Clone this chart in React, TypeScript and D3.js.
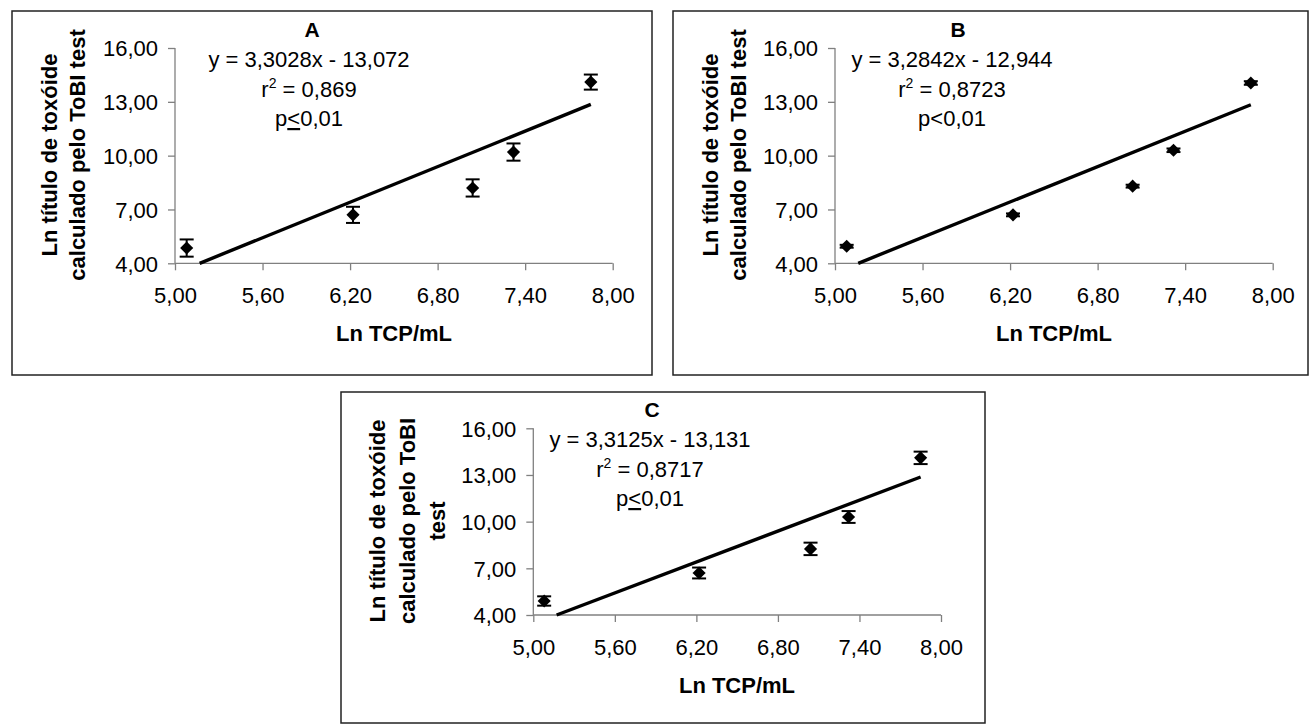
import React, { useEffect, useRef } from "react";
import * as d3 from "d3";

// Ln TCP/mL (same x for the three panels)
const lnTCP = [5.08, 6.22, 7.04, 7.32, 7.85];

// Ln titulo (ToBI test) and error per panel
const tituloA = [4.85, 6.7, 8.2, 10.2, 14.1];
const erroA = [0.48, 0.45, 0.48, 0.48, 0.42];
const tituloB = [4.95, 6.7, 8.3, 10.3, 14.05];
const erroB = [0.08, 0.08, 0.08, 0.1, 0.1];
const tituloC = [4.9, 6.7, 8.25, 10.3, 14.1];
const erroC = [0.3, 0.35, 0.4, 0.38, 0.4];

const xTicks = [5.0, 5.6, 6.2, 6.8, 7.4, 8.0];
const yTicks = [4, 7, 10, 13, 16];

const panelNames = ["A", "B", "C"];
const slopes = [3.3028, 3.2842, 3.3125];
const intercepts = [-13.072, -12.944, -13.131];
const equations = ["y = 3,3028x - 13,072", "y = 3,2842x - 12,944", "y = 3,3125x - 13,131"];
const r2Values = ["0,869", "0,8723", "0,8717"];
const pUnderlined = [true, false, true];
const yLabels = [
  ["Ln título de toxóide", "calculado pelo ToBI test"],
  ["Ln título de toxóide", "calculado pelo ToBI test"],
  ["Ln título de toxóide", "calculado pelo ToBI", "test"],
];
const xLabel = "Ln TCP/mL";

const FONT = "Arial, 'Liberation Sans', sans-serif";

const layouts = [
  { box: [12, 11, 652, 375], plot: [175, 612.7, 263.3, 48], title: [312, 37], note: [309, 67], yLab: [57, 155], yStep: 28, xLab: [394, 341] },
  { box: [673, 11, 1308, 375], plot: [835, 1272.7, 263.3, 48], title: [958, 37], note: [952, 67], yLab: [718, 155], yStep: 28, xLab: [1054, 341] },
  { box: [341, 392, 985, 723], plot: [533.3, 941, 615, 428.3], title: [652, 417], note: [650, 447], yLab: [385, 521], yStep: 30, xLab: [737, 693] },
];

const fmt = (v) => d3.format(".2f")(v).replace(".", ",");

function drawPanel(svg, i, ys, errs) {
  const L = layouts[i];
  const g = svg.append("g");
  const [bx0, by0, bx1, by1] = L.box;
  g.append("rect")
    .attr("x", bx0)
    .attr("y", by0)
    .attr("width", bx1 - bx0)
    .attr("height", by1 - by0)
    .attr("fill", "white")
    .attr("stroke", "#222")
    .attr("stroke-width", 1.5);

  const [px0, px1, py0, py1] = L.plot;
  const x = d3.scaleLinear().domain([5, 8]).range([px0, px1]);
  const y = d3.scaleLinear().domain([4, 16]).range([py0, py1]);

  const xAxis = g.append("g").attr("transform", `translate(0,${py0})`)
    .call(d3.axisBottom(x).tickValues(xTicks).tickSize(7).tickFormat(fmt));
  const yAxis = g.append("g").attr("transform", `translate(${px0},0)`)
    .call(d3.axisLeft(y).tickValues(yTicks).tickSize(7).tickFormat(fmt));
  [xAxis, yAxis].forEach((a) => {
    a.select(".domain").attr("stroke", "#808080").attr("stroke-width", 1.3);
    a.selectAll(".tick line").attr("stroke", "#808080").attr("stroke-width", 1.3);
    a.selectAll(".tick text").attr("fill", "black").style("font-family", FONT).style("font-size", "22px");
  });
  xAxis.selectAll(".domain").attr("d", `M${px0},0H${px1}`);
  yAxis.selectAll(".domain").attr("d", `M0,${py0}V${py1}`);
  xAxis.selectAll(".tick text").attr("y", 24).attr("dy", "0.71em");
  yAxis.selectAll(".tick text").attr("x", -17).attr("dy", "0.36em");

  // trendline
  const a = slopes[i], b = intercepts[i];
  const xs = Math.max(d3.min(lnTCP), (4 - b) / a);
  const xe = d3.max(lnTCP);
  g.append("path")
    .attr("d", d3.line()([[x(xs), y(a * xs + b)], [x(xe), y(a * xe + b)]]))
    .attr("stroke", "black")
    .attr("stroke-width", 3.4)
    .attr("fill", "none");

  // error bars
  const pts = lnTCP.map((v, k) => ({ x: v, y: ys[k], e: errs[k] }));
  const eb = g.selectAll(".eb").data(pts).enter().append("g");
  eb.append("line")
    .attr("x1", (d) => x(d.x)).attr("x2", (d) => x(d.x))
    .attr("y1", (d) => y(d.y - d.e)).attr("y2", (d) => y(d.y + d.e))
    .attr("stroke", "black").attr("stroke-width", 2);
  [-1, 1].forEach((s) => {
    eb.append("line")
      .attr("x1", (d) => x(d.x) - 7).attr("x2", (d) => x(d.x) + 7)
      .attr("y1", (d) => y(d.y + s * d.e)).attr("y2", (d) => y(d.y + s * d.e))
      .attr("stroke", "black").attr("stroke-width", 2);
  });
  g.selectAll(".pt").data(pts).enter().append("path")
    .attr("d", d3.symbol(d3.symbolDiamond2, 110)())
    .attr("transform", (d) => `translate(${x(d.x)},${y(d.y)})`)
    .attr("fill", "black");

  // title and equation text
  g.append("text")
    .attr("x", L.title[0]).attr("y", L.title[1])
    .attr("text-anchor", "middle")
    .style("font-family", FONT).style("font-size", "21px").style("font-weight", "bold")
    .text(panelNames[i]);
  const nx = L.note[0], ny = L.note[1];
  g.append("text")
    .attr("x", nx).attr("y", ny).attr("text-anchor", "middle")
    .style("font-family", FONT).style("font-size", "22px")
    .text(equations[i]);
  const r2 = g.append("text")
    .attr("x", nx).attr("y", ny + 30).attr("text-anchor", "middle")
    .style("font-family", FONT).style("font-size", "22px");
  r2.append("tspan").text("r");
  r2.append("tspan").attr("dy", -9).style("font-size", "14px").text("2");
  r2.append("tspan").attr("dy", 9).text(" = " + r2Values[i]);
  const p = g.append("text")
    .attr("x", nx).attr("y", ny + 59).attr("text-anchor", "middle")
    .style("font-family", FONT).style("font-size", "22px");
  p.append("tspan").text("p");
  p.append("tspan").style("text-decoration", pUnderlined[i] ? "underline" : "none").text("<");
  p.append("tspan").text("0,01");

  // axis titles
  g.append("text")
    .attr("x", L.xLab[0]).attr("y", L.xLab[1]).attr("text-anchor", "middle")
    .style("font-family", FONT).style("font-size", "22px").style("font-weight", "bold")
    .text(xLabel);
  const yl = g.append("text")
    .attr("transform", `translate(${L.yLab[0]},${L.yLab[1]}) rotate(-90)`)
    .attr("text-anchor", "middle")
    .style("font-family", FONT).style("font-size", "22px").style("font-weight", "bold");
  yLabels[i].forEach((line, k) => {
    yl.append("tspan").attr("x", 0).attr("y", k * L.yStep).text(line);
  });
}

export default function App() {
  const ref = useRef(null);
  useEffect(() => {
    const svg = d3.select(ref.current);
    svg.selectAll("*").remove();
    drawPanel(svg, 0, tituloA, erroA);
    drawPanel(svg, 1, tituloB, erroB);
    drawPanel(svg, 2, tituloC, erroC);
  }, []);
  return (
    <svg
      ref={ref}
      width={1311}
      height={725}
      style={{ position: "absolute", left: 0, top: 0, background: "white" }}
    ></svg>
  );
}
